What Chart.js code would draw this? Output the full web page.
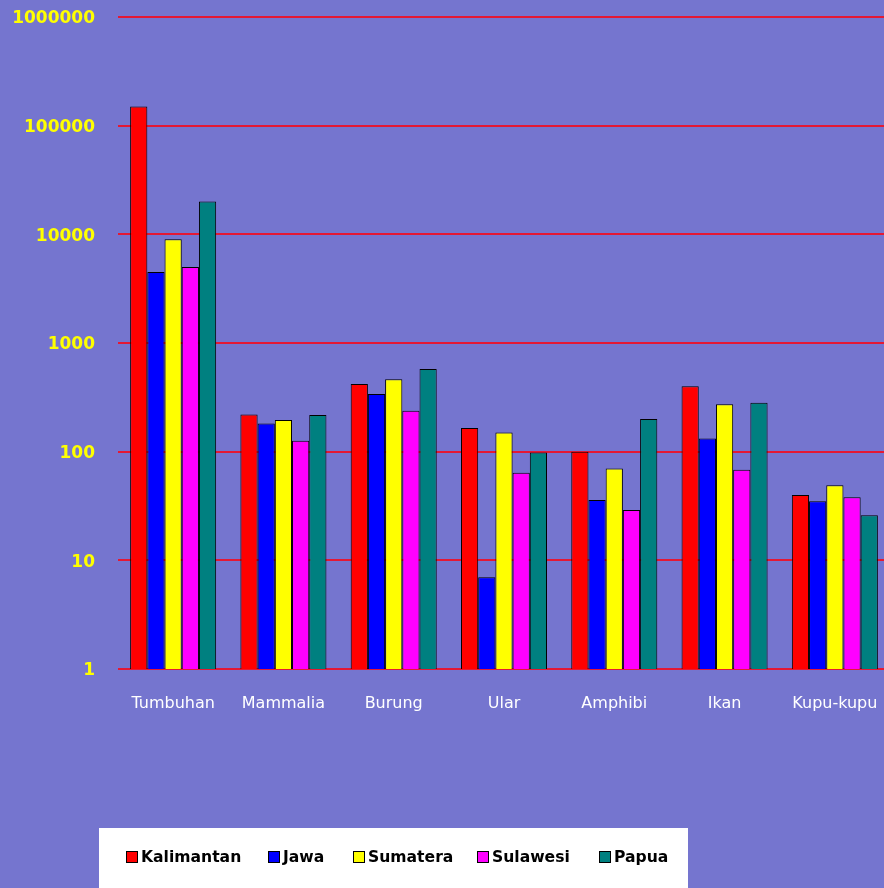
<!DOCTYPE html>
<html>
<head>
<meta charset="utf-8">
<script src="https://cdn.jsdelivr.net/npm/chart.js@4/dist/chart.umd.min.js"></script>
<style>
  html, body { margin: 0; padding: 0; width: 884px; height: 888px; overflow: hidden; background: #7575cf; }
  #wrap { position: absolute; left: 0; top: 0; width: 890px; height: 888px; }
  #legend { position: absolute; left: 99px; top: 828px; width: 589px; height: 60px; background: #ffffff;
            font-family: "DejaVu Sans", sans-serif; font-weight: bold; font-size: 15.6px; color: #000; }
  .item { display: flex; align-items: center; position: absolute; top: -1px; height: 60px; }
  .box { width: 10px; height: 10px; border: 1px solid #000; margin-right: 3px; }
</style>
</head>
<body>
<div id="wrap"><canvas id="c" width="890" height="888"></canvas></div>
<div id="legend"></div>
<script>
const categories = ["Tumbuhan", "Mammalia", "Burung", "Ular", "Amphibi", "Ikan", "Kupu-kupu"];
const seriesNames = ["Kalimantan", "Jawa", "Sumatera", "Sulawesi", "Papua"];
const seriesColors = ["#ff0000", "#0000ff", "#ffff00", "#ff00ff", "#008080"];
const kalimantan = [150000, 220, 420, 165, 100, 400, 40];
const jawa       = [4500, 182, 340, 7, 36, 132, 35];
const sumatera   = [9000, 196, 463, 150, 70, 273, 49];
const sulawesi   = [5000, 126, 238, 64, 29, 68, 38];
const papua      = [20000, 217, 576, 98, 200, 282, 26];
const tickValues = [1, 10, 100, 1000, 10000, 100000, 1000000];

const seriesData = [kalimantan, jawa, sumatera, sulawesi, papua];
const legendX = [126, 268, 353, 477, 599];

const datasets = seriesNames.map((name, i) => ({
  label: name,
  data: seriesData[i],
  backgroundColor: seriesColors[i],
  borderColor: "#000000",
  borderWidth: 1,
  categoryPercentage: 0.78,
  barPercentage: 1.0
}));

const bgPlugin = {
  id: "bg",
  beforeDraw(chart) {
    const ctx = chart.ctx;
    ctx.save();
    ctx.fillStyle = "#7575cf";
    ctx.fillRect(0, 0, chart.width, chart.height);
    ctx.restore();
  }
};

new Chart(document.getElementById("c"), {
  type: "bar",
  data: { labels: categories, datasets },
  plugins: [bgPlugin],
  options: {
    responsive: false,
    animation: false,
    layout: { padding: { top: 17, left: 0, right: 0, bottom: 0 } },
    plugins: { legend: { display: false }, tooltip: { enabled: false } },
    scales: {
      x: {
        grid: { display: false, drawTicks: true, tickLength: 14, tickColor: "rgba(0,0,0,0)" },
        border: { display: false },
        ticks: { color: "#ffffff", font: { family: "DejaVu Sans", size: 16 }, padding: 11, maxRotation: 0, autoSkip: false },
        afterFit(scale) { scale.height = 219; }
      },
      y: {
        type: "logarithmic",
        min: 1,
        max: 1000000,
        grid: { color: "rgb(228,24,52)", lineWidth: 2, drawTicks: true, tickLength: 20, tickColor: "rgba(0,0,0,0)" },
        border: { display: false },
        afterBuildTicks(scale) { scale.ticks = tickValues.map(v => ({ value: v })); },
        ticks: {
          color: "#ffff00",
          font: { family: "DejaVu Sans", size: 17, weight: "bold" },
          padding: 3,
          labelOffset: 2,
          callback: v => String(v)
        },
        afterFit(scale) { scale.width = 118; }
      }
    }
  }
});

const legend = document.getElementById("legend");
seriesNames.forEach((name, i) => {
  const it = document.createElement("div");
  it.className = "item";
  it.style.left = (legendX[i] - 99) + "px";
  const b = document.createElement("div");
  b.className = "box";
  b.style.background = seriesColors[i];
  const t = document.createElement("span");
  t.textContent = name;
  it.appendChild(b);
  it.appendChild(t);
  legend.appendChild(it);
});
</script>
</body>
</html>
